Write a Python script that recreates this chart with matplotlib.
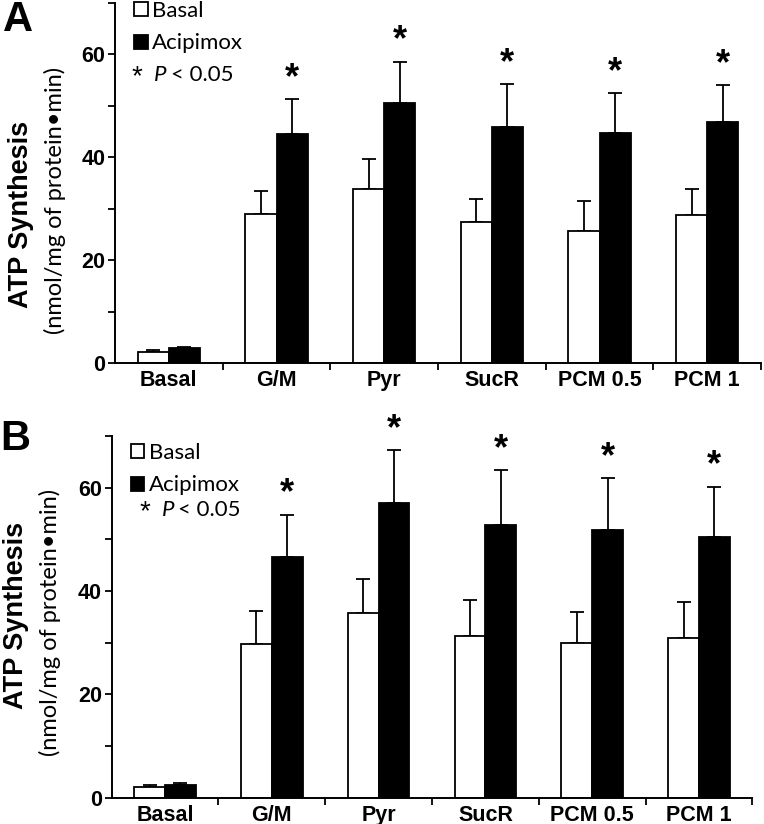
import matplotlib
matplotlib.use("Agg")
import matplotlib.pyplot as plt
import numpy as np

categories = ["Basal", "G/M", "Pyr", "SucR", "PCM 0.5", "PCM 1"]

# Panel A
a_basal = [2.2, 29.0, 33.8, 27.4, 25.7, 28.9]
a_basal_err = [0.3, 4.5, 5.8, 4.6, 5.8, 4.9]
a_acip = [2.9, 44.6, 50.5, 46.0, 44.8, 46.9]
a_acip_err = [0.2, 6.7, 8.1, 8.3, 7.7, 7.2]
a_sig = [False, True, True, True, True, True]

# Panel B
b_basal = [2.1, 29.7, 35.8, 31.2, 29.9, 31.0]
b_basal_err = [0.35, 6.4, 6.6, 7.1, 6.1, 6.9]
b_acip = [2.45, 46.6, 57.0, 52.8, 51.9, 50.4]
b_acip_err = [0.35, 8.2, 10.2, 10.6, 9.9, 9.8]
b_sig = [False, True, True, True, True, True]

W, H = 764, 824
fig = plt.figure(figsize=(W / 100, H / 100), dpi=100)

bold_font = ["Liberation Sans", "DejaVu Sans"]
light_font = ["Lato", "DejaVu Sans"]

def px_rect(l, r, top, bottom):
    return [l / W, 1 - bottom / H, (r - l) / W, (bottom - top) / H]

def draw_panel(rect, basal, basal_err, acip, acip_err, sig, leg_y, p_xy):
    ax = fig.add_axes(rect)
    x = np.arange(len(categories))
    bw = 0.288
    b1 = ax.bar(x - bw / 2, basal, bw, color="white", edgecolor="black", linewidth=1.3,
                label="Basal", zorder=2)
    b2 = ax.bar(x + bw / 2, acip, bw, color="black", edgecolor="black", linewidth=1.3,
                label="Acipimox", zorder=2)
    ax.errorbar(x - bw / 2, basal, yerr=[np.zeros(len(basal)), basal_err], fmt="none",
                ecolor="black", elinewidth=1.3, capsize=5, capthick=1.3, zorder=1)
    ax.errorbar(x + bw / 2, acip, yerr=[np.zeros(len(acip)), acip_err], fmt="none",
                ecolor="black", elinewidth=1.3, capsize=5, capthick=1.3, zorder=1)
    for xi, v, e, s in zip(x, acip, acip_err, sig):
        if s:
            ax.text(xi + bw / 2, v + e + 0.6, "*", ha="center", va="bottom",
                    fontsize=26, fontweight="bold", family=bold_font)
    ax.set_xlim(-0.5, len(categories) - 0.5)
    ax.set_ylim(0, 70)
    ax.spines["top"].set_visible(False)
    ax.spines["right"].set_visible(False)
    ax.spines["left"].set_linewidth(1.4)
    ax.spines["bottom"].set_linewidth(1.4)
    ax.set_yticks([0, 20, 40, 60])
    ax.set_yticks([10, 30, 50, 70], minor=True)
    ax.set_xticks(x)
    ax.set_xticklabels(categories)
    ax.set_xticks(np.arange(len(categories)) + 0.5, minor=True)
    ax.tick_params(axis="x", which="major", length=0, pad=5)
    ax.tick_params(axis="x", which="minor", length=5, width=1.3, direction="out")
    ax.tick_params(axis="y", which="both", length=5, width=1.3, direction="out", pad=2)
    for lab in ax.get_xticklabels() + ax.get_yticklabels():
        lab.set_fontfamily(bold_font)
        lab.set_fontweight("bold")
        lab.set_fontsize(15.5)
    ax.legend(handles=[b1, b2], loc="upper left", bbox_to_anchor=(0.03, leg_y),
              frameon=False, borderpad=0, borderaxespad=0, handlelength=0.6,
              handleheight=0.6, handletextpad=0.2, labelspacing=0.55,
              prop={"family": light_font, "size": 16})
    ax.text(p_xy[0], p_xy[1] - 0.005, "*", transform=ax.transAxes, ha="left", va="center",
            fontsize=20, family=bold_font)
    ax.text(p_xy[0] + 0.034, p_xy[1], "P", transform=ax.transAxes, ha="left", va="center",
            fontsize=16, family=light_font, style="italic")
    ax.text(p_xy[0] + 0.060, p_xy[1], "< 0.05", transform=ax.transAxes, ha="left",
            va="center", fontsize=16, family=light_font)
    return ax

axA = draw_panel(px_rect(115, 761, 3, 363.3), a_basal, a_basal_err, a_acip, a_acip_err,
                 a_sig, 1.005, (0.026, 0.80))
axB = draw_panel(px_rect(111.7, 752.3, 436, 797.7), b_basal, b_basal_err, b_acip, b_acip_err,
                 b_sig, 0.98, (0.044, 0.795))

fig.text(21 / W, 1 - 214 / H, "ATP Synthesis", rotation=90, ha="center", va="center",
         fontsize=19.5, fontweight="bold", family=bold_font)
fig.text(55 / W, 1 - 200 / H, "(nmol/mg of protein\u2022min)", rotation=90, ha="center",
         va="center", fontsize=17, family=light_font)
fig.text(16 / W, 1 - 615 / H, "ATP Synthesis", rotation=90, ha="center", va="center",
         fontsize=19.5, fontweight="bold", family=bold_font)
fig.text(50 / W, 1 - 622 / H, "(nmol/mg of protein\u2022min)", rotation=90, ha="center",
         va="center", fontsize=17, family=light_font)

fig.text(18 / W, 1 - 20 / H, "A", ha="center", va="center", fontsize=30, fontweight="bold",
         family=bold_font)
fig.text(15 / W, 1 - 439 / H, "B", ha="center", va="center", fontsize=30, fontweight="bold",
         family=bold_font)

fig.savefig("out.png", dpi=100)
